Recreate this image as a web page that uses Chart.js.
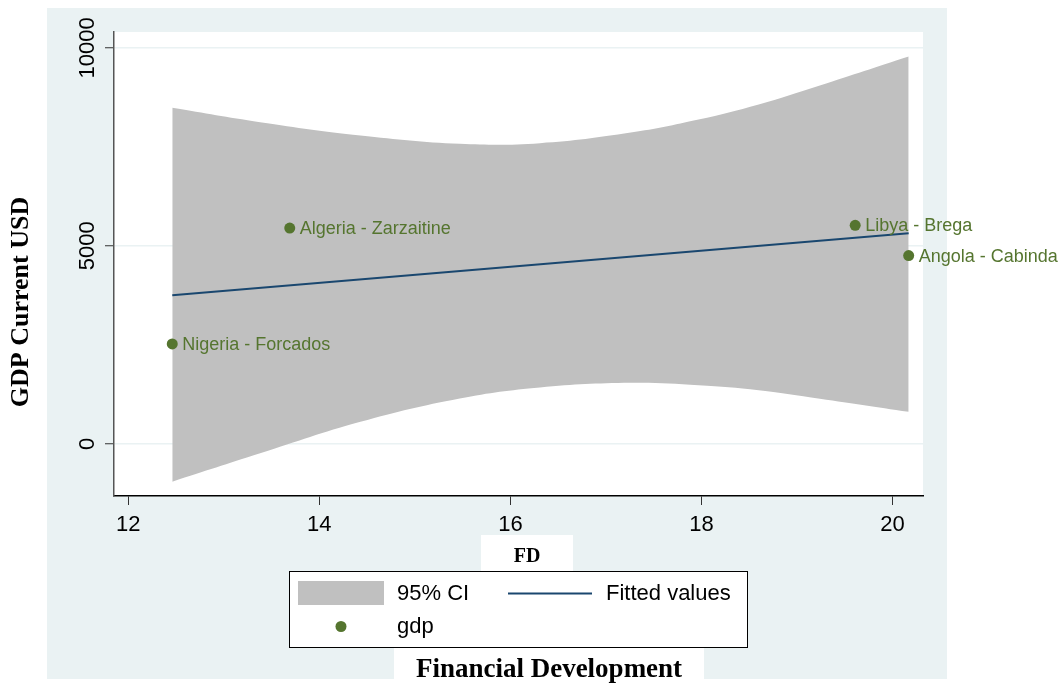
<!DOCTYPE html>
<html>
<head>
<meta charset="utf-8">
<script src="https://cdn.jsdelivr.net/npm/chart.js@4.4.1/dist/chart.umd.min.js"></script>
<style>
  html, body { margin: 0; padding: 0; background: #ffffff; }
  #wrap { width: 1064px; height: 686px; position: relative; }
</style>
</head>
<body>
<div id="wrap"><canvas id="c" width="1064" height="686"></canvas></div>
<script>
// ---- data ----
const pointLabels = ['Nigeria - Forcados', 'Algeria - Zarzaitine', 'Libya - Brega', 'Angola - Cabinda'];
const fdValues = [12.46, 13.69, 19.61, 20.17];
const gdpValues = [2523, 5449, 5517, 4753];

const fitX = [12.46, 20.17];
const fitY = [3751, 5315];

const ciX = [12.46, 13.38, 14.43, 15.47, 16.31, 17.26, 17.97, 18.60, 19.24, 20.17];
const ciUpper = [8486, 8123, 7788, 7578, 7593, 7860, 8190, 8570, 9049, 9781];
const ciLower = [-959, -242, 555, 1145, 1423, 1539, 1481, 1355, 1140, 807];

const xTicks = [12, 14, 16, 18, 20];
const yTicks = [0, 5000, 10000];

const legendLabels = ['95% CI', 'Fitted values', 'gdp'];
const xTitle = 'FD';
const xTitle2 = 'Financial Development';
const yTitle = 'GDP Current USD';

// ---- styles ----
const BG_BLUE = '#eaf2f3';
const CI_GREY = '#c0c0c0';
const NAVY = '#1a476f';
const GREEN = '#55752f';
const SANS = '"Liberation Sans", Arial, Helvetica, sans-serif';
const SERIF = '"Liberation Serif", "Times New Roman", serif';

const pts = (xs, ys) => xs.map((x, i) => ({ x: x, y: ys[i] }));

const backgroundPlugin = {
  id: 'bg',
  beforeDraw(chart) {
    const ctx = chart.ctx, a = chart.chartArea;
    ctx.save();
    ctx.fillStyle = '#ffffff';
    ctx.fillRect(0, 0, chart.width, chart.height);
    ctx.fillStyle = BG_BLUE;
    ctx.fillRect(47, 8, 900, 671);
    ctx.fillStyle = '#ffffff';
    ctx.fillRect(a.left, a.top, a.right - a.left, a.bottom - a.top);
    ctx.restore();
  }
};

const overlayPlugin = {
  id: 'overlay',
  afterDraw(chart) {
    const ctx = chart.ctx;
    const ys = chart.scales.y;
    ctx.save();
    // y tick labels (rotated)
    ctx.fillStyle = '#000';
    ctx.font = '22px ' + SANS;
    ctx.textAlign = 'center';
    ctx.textBaseline = 'middle';
    yTicks.forEach(v => {
      const py = ys.getPixelForValue(v);
      ctx.save();
      ctx.translate(88, py);
      ctx.rotate(-Math.PI / 2);
      ctx.fillText(String(v), 0, 0);
      ctx.restore();
    });
    // y title
    ctx.save();
    ctx.font = 'bold 26px ' + SERIF;
    ctx.translate(21, 302);
    ctx.rotate(-Math.PI / 2);
    ctx.fillText(yTitle, 0, 0);
    ctx.restore();

    // point labels
    const meta = chart.getDatasetMeta(3);
    ctx.font = '18px ' + SANS;
    ctx.fillStyle = GREEN;
    ctx.textAlign = 'left';
    ctx.textBaseline = 'middle';
    meta.data.forEach((el, i) => {
      ctx.fillText(pointLabels[i], el.x + 10, el.y + 1);
    });

    // FD title box
    ctx.fillStyle = '#ffffff';
    ctx.fillRect(481, 535, 92, 37);
    ctx.fillStyle = '#000';
    ctx.font = 'bold 20px ' + SERIF;
    ctx.textAlign = 'center';
    ctx.fillText(xTitle, 527, 557);

    // legend box
    ctx.fillStyle = '#ffffff';
    ctx.fillRect(289.5, 571.5, 458, 76);
    ctx.strokeStyle = '#000';
    ctx.lineWidth = 1;
    ctx.strokeRect(289.5, 571.5, 458, 76);
    ctx.fillStyle = CI_GREY;
    ctx.fillRect(298, 581, 86, 24);
    ctx.strokeStyle = NAVY;
    ctx.lineWidth = 2;
    ctx.beginPath();
    ctx.moveTo(508, 593.5);
    ctx.lineTo(592, 593.5);
    ctx.stroke();
    ctx.fillStyle = GREEN;
    ctx.beginPath();
    ctx.arc(341, 626.5, 5.5, 0, Math.PI * 2);
    ctx.fill();
    ctx.fillStyle = '#000';
    ctx.font = '22px ' + SANS;
    ctx.textAlign = 'left';
    ctx.textBaseline = 'middle';
    ctx.fillText(legendLabels[0], 397, 594);
    ctx.fillText(legendLabels[1], 606, 594);
    ctx.fillText(legendLabels[2], 397, 627);

    // Financial Development box
    ctx.fillStyle = '#ffffff';
    ctx.fillRect(394, 648, 310, 38);
    ctx.fillStyle = '#000';
    ctx.font = 'bold 27px ' + SERIF;
    ctx.textAlign = 'center';
    ctx.fillText(xTitle2, 549, 670);
    ctx.restore();
  }
};

new Chart(document.getElementById('c'), {
  type: 'scatter',
  data: {
    datasets: [
      {
        type: 'line', label: legendLabels[0] + ' upper', data: pts(ciX, ciUpper),
        borderWidth: 0, borderColor: 'rgba(0,0,0,0)', backgroundColor: CI_GREY,
        pointRadius: 0, fill: '+1', tension: 0.4, order: 3
      },
      {
        type: 'line', label: legendLabels[0] + ' lower', data: pts(ciX, ciLower),
        borderWidth: 0, borderColor: 'rgba(0,0,0,0)', backgroundColor: CI_GREY,
        pointRadius: 0, fill: false, tension: 0.4, order: 4
      },
      {
        type: 'line', label: legendLabels[1], data: pts(fitX, fitY),
        borderWidth: 2, borderColor: NAVY, pointRadius: 0, fill: false, order: 2
      },
      {
        type: 'scatter', label: legendLabels[2], data: pts(fdValues, gdpValues),
        backgroundColor: GREEN, borderColor: GREEN, pointRadius: 5.5, borderWidth: 0, order: 1
      }
    ]
  },
  options: {
    responsive: false,
    devicePixelRatio: 1,
    animation: false,
    layout: { padding: { left: 0, top: 32, right: 141, bottom: 0 } },
    plugins: { legend: { display: false }, tooltip: { enabled: false } },
    scales: {
      x: {
        type: 'linear', min: 11.85, max: 20.32,
        afterBuildTicks: s => { s.ticks = xTicks.map(v => ({ value: v })); },
        afterFit: s => { s.height = 190; },
        ticks: { color: '#000', font: { size: 22, family: SANS }, padding: 7, maxRotation: 0 },
        grid: { drawOnChartArea: false, drawTicks: true, tickLength: 9, tickColor: '#333', tickWidth: 1 },
        border: { color: '#000', width: 1.5 }
      },
      y: {
        type: 'linear', min: -1319, max: 10401,
        afterBuildTicks: s => { s.ticks = yTicks.map(v => ({ value: v })); },
        afterFit: s => { s.width = 114; },
        ticks: { display: false },
        grid: { color: BG_BLUE, lineWidth: 1.5, drawTicks: true, tickLength: 9, tickColor: '#333', tickWidth: 1 },
        border: { color: '#555', width: 1.5 }
      }
    }
  },
  plugins: [backgroundPlugin, overlayPlugin]
});
</script>
</body>
</html>
